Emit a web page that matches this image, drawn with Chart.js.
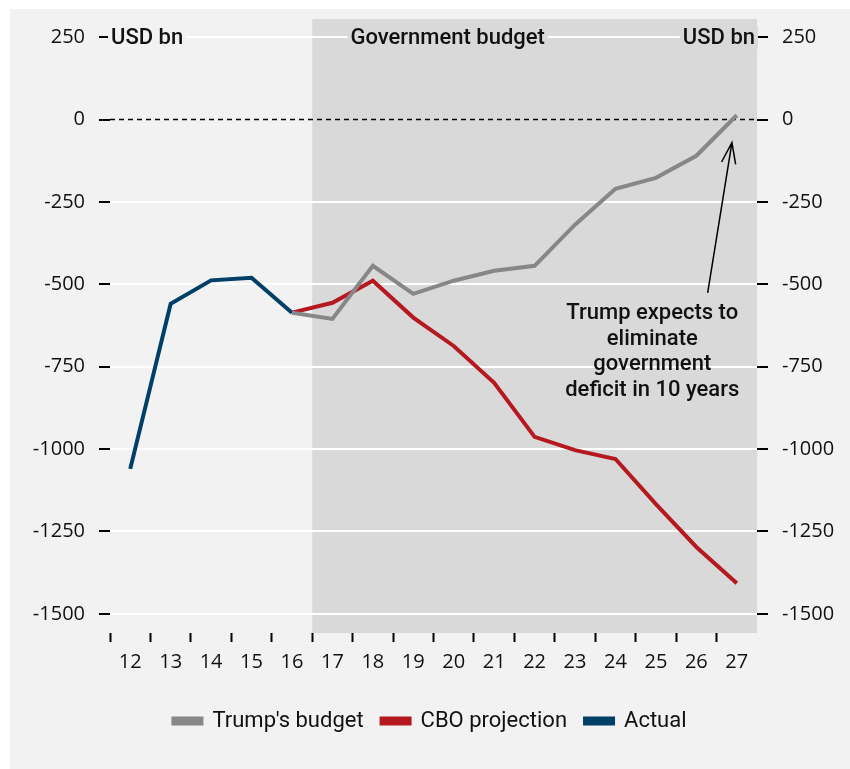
<!DOCTYPE html>
<html lang="en">
<head>
<meta charset="UTF-8">
<title>Government budget</title>
<script src="https://cdn.jsdelivr.net/npm/chart.js"></script>
<style>
    body { margin: 0; background: #ffffff; }
    .chart-box {
        position: absolute;
        left: 10px;
        top: 9px;
        width: 840px;
        height: 760px;
        background: #f2f2f2;
    }
</style>
</head>
<body>
<div class="chart-box">
    <canvas id="budgetChart" width="840" height="760"></canvas>
</div>
<script>
    const years = ['12', '13', '14', '15', '16', '17', '18', '19', '20', '21', '22', '23', '24', '25', '26', '27'];
    const trumpBudget = [null, null, null, null, -586, -605, -444, -529, -489, -459, -444, -319, -210, -177, -110, 13];
    const cboProjection = [null, null, null, null, -586, -556, -489, -601, -687, -799, -963, -1003, -1030, -1167, -1297, -1407];
    const actual = [-1060, -559, -488, -480, -586, null, null, null, null, null, null, null, null, null, null, null];
    const yTicks = [250, 0, -250, -500, -750, -1000, -1250, -1500];
    const noteLines = ['Trump expects to', 'eliminate', 'government', 'deficit in 10 years'];

    const BG = '#f2f2f2';
    const SHADE = '#d9d9d9';
    const LABEL_FONT = '500 22px Roboto';
    const TICK_FONT = { family: 'Open Sans', size: 20 };

    // label with a background box so the gridline is hidden behind it
    function boxedText(ctx, text, x, y, align, bg) {
        const w = ctx.measureText(text).width;
        let left = align === 'left' ? x : align === 'right' ? x - w : x - w / 2;
        ctx.fillStyle = bg;
        ctx.fillRect(left - 3, y - 11, w + 6, 22);
        ctx.fillStyle = '#111';
        ctx.textAlign = align;
        ctx.textBaseline = 'middle';
        ctx.fillText(text, x, y + 1);
    }

    const decorPlugin = {
        id: 'decor',
        beforeDraw(chart) {
            const { ctx, chartArea: a, scales: { x } } = chart;
            const x0 = x.getPixelForValue(4.5);
            ctx.save();
            ctx.fillStyle = SHADE;
            ctx.fillRect(x0, a.top, a.right - x0, a.bottom - a.top);
            ctx.restore();
        },
        beforeDatasetsDraw(chart) {
            const { ctx, chartArea: a, scales: { x, y } } = chart;
            ctx.save();
            // dashed zero line
            const y0 = y.getPixelForValue(0);
            ctx.strokeStyle = '#000';
            ctx.lineWidth = 1.5;
            ctx.setLineDash([5, 4]);
            ctx.beginPath();
            ctx.moveTo(a.left, y0);
            ctx.lineTo(a.right, y0);
            ctx.stroke();
            ctx.setLineDash([]);

            const yTop = y.getPixelForValue(250);
            ctx.font = LABEL_FONT;
            boxedText(ctx, 'USD bn', a.left + 1, yTop, 'left', BG);
            boxedText(ctx, 'USD bn', a.right - 2, yTop, 'right', SHADE);
            boxedText(ctx, 'Government budget', x.getPixelForValue(7.85), yTop, 'center', SHADE);
            ctx.restore();
        },
        afterDatasetsDraw(chart) {
            const { ctx, scales: { x, y } } = chart;
            ctx.save();
            // arrow
            const tx = x.getPixelForValue(14.88), ty = y.getPixelForValue(-70);
            const bx = x.getPixelForValue(14.28), by = y.getPixelForValue(-526);
            ctx.strokeStyle = '#000';
            ctx.lineWidth = 1.5;
            ctx.beginPath();
            ctx.moveTo(bx, by);
            ctx.lineTo(tx, ty);
            const ang = Math.atan2(ty - by, tx - bx);
            const len = 22, spread = 0.33;
            ctx.moveTo(tx - len * Math.cos(ang - spread), ty - len * Math.sin(ang - spread));
            ctx.lineTo(tx, ty);
            ctx.lineTo(tx - len * Math.cos(ang + spread), ty - len * Math.sin(ang + spread));
            ctx.stroke();

            // note text
            ctx.font = '500 22px Roboto';
            ctx.fillStyle = '#111';
            ctx.textAlign = 'center';
            ctx.textBaseline = 'middle';
            const nx = x.getPixelForValue(12.91);
            const ny = y.getPixelForValue(-590);
            noteLines.forEach((line, i) => ctx.fillText(line, nx, ny + i * 25.5));
            ctx.restore();
        }
    };

    function yAxis(position) {
        return {
            type: 'linear',
            position: position,
            min: -1558,
            max: 305,
            afterBuildTicks(scale) {
                scale.ticks = yTicks.map(v => ({ value: v }));
            },
            afterFit(scale) {
                scale.width = position === 'left' ? 100 : 93;
                scale.paddingTop = 0;
                scale.paddingBottom = 0;
            },
            border: { display: false },
            grid: {
                drawOnChartArea: position === 'left',
                color: ctx => (ctx.tick && ctx.tick.value === 0 ? 'rgba(0,0,0,0)' : '#ffffff'),
                lineWidth: 2,
                drawTicks: true,
                tickLength: 11,
                tickWidth: 2,
                tickColor: '#000'
            },
            ticks: {
                color: '#111',
                font: TICK_FONT,
                padding: 14,
                callback: v => String(v)
            }
        };
    }

    function drawChart() {
        const ctx = document.getElementById('budgetChart').getContext('2d');
        new Chart(ctx, {
            type: 'line',
            data: {
                labels: years,
                datasets: [
                    {
                        label: "Trump's budget",
                        data: trumpBudget,
                        borderColor: '#878787',
                        backgroundColor: '#878787',
                        yAxisID: 'y'
                    },
                    {
                        label: 'CBO projection',
                        data: cboProjection,
                        borderColor: '#b5191f',
                        backgroundColor: '#b5191f',
                        yAxisID: 'y'
                    },
                    {
                        label: 'Actual',
                        data: actual,
                        borderColor: '#003f66',
                        backgroundColor: '#003f66',
                        yAxisID: 'y'
                    }
                ]
            },
            options: {
                responsive: false,
                animation: false,
                layout: { padding: { top: 10, left: 0, right: 0, bottom: 27 } },
                elements: {
                    line: { borderWidth: 4, tension: 0, borderJoinStyle: 'miter' },
                    point: { radius: 0, hoverRadius: 0 }
                },
                scales: {
                    x: {
                        offset: true,
                        border: { display: false },
                        grid: {
                            offset: true,
                            drawOnChartArea: false,
                            drawTicks: true,
                            tickLength: 9,
                            tickWidth: 2,
                            tickColor: ctx => (ctx.type === 'tick' ? '#000' : 'rgba(0,0,0,0)')
                        },
                        ticks: {
                            color: '#111',
                            font: TICK_FONT,
                            padding: 8,
                            maxRotation: 0,
                            autoSkip: false
                        },
                        afterFit(scale) {
                            scale.height = 59;
                        }
                    },
                    y: yAxis('left'),
                    y1: yAxis('right')
                },
                plugins: {
                    legend: {
                        position: 'bottom',
                        labels: {
                            boxWidth: 28,
                            boxHeight: 5,
                            padding: 18,
                            color: '#111',
                            font: { family: 'Roboto', size: 22 }
                        }
                    },
                    tooltip: { enabled: false }
                }
            },
            plugins: [decorPlugin]
        });
    }

    Promise.all([
        document.fonts.load('500 22px Roboto'),
        document.fonts.load('22px Roboto'),
        document.fonts.load('20px "Open Sans"')
    ]).then(drawChart, drawChart);
</script>
</body>
</html>
